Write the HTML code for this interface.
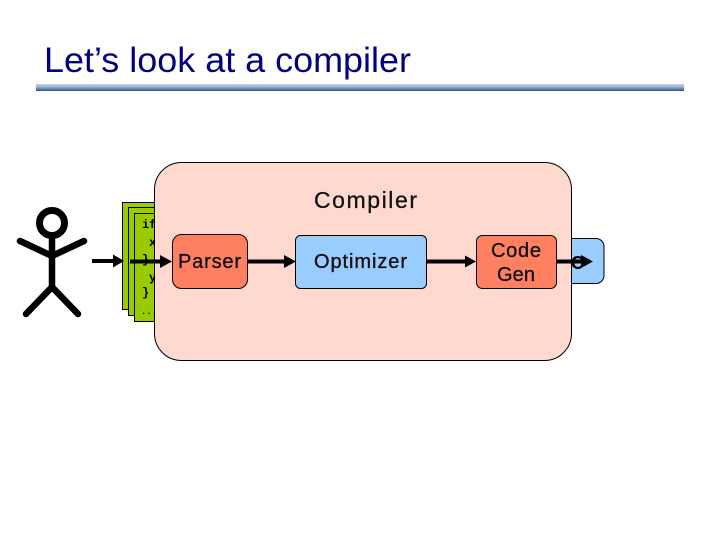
<!DOCTYPE html>
<html>
<head>
<meta charset="utf-8">
<style>
html,body{margin:0;padding:0;background:#fff;width:720px;height:540px;overflow:hidden}
svg{display:block}
text{font-family:"Liberation Sans",sans-serif}
.c{font-family:"Liberation Mono",monospace;font-weight:bold;font-size:12px;fill:#000}
.l{font-size:20px;fill:#111;text-anchor:middle;stroke:#111;stroke-width:.35}
</style>
</head>
<body>
<svg width="720" height="540" viewBox="0 0 720 540" xmlns="http://www.w3.org/2000/svg">
<defs>
<linearGradient id="g" x1="0" y1="0" x2="0" y2="1">
<stop offset="0" stop-color="#c5dbe4"/>
<stop offset=".45" stop-color="#8fb0cc"/>
<stop offset="1" stop-color="#3c4f80"/>
</linearGradient>
</defs>
<rect width="720" height="540" fill="#fff"/>
<text x="44" y="72" font-size="35" fill="#000080" textLength="367" lengthAdjust="spacingAndGlyphs">Let’s look at a compiler</text>
<rect x="36" y="84" width="648" height="7" fill="url(#g)"/>

<g fill="none" stroke="#000" stroke-width="6.500" stroke-linecap="round" stroke-linejoin="round">
<circle cx="52" cy="223" r="12.500" stroke-width="7"/>
<path d="M52 238V287M20 241L52 256L84 241M26 314L52 287L78 314"/>
</g>

<rect x="122.500" y="202.500" width="50" height="107" fill="#99cc00" stroke="#000"/>
<rect x="128.500" y="207.500" width="50" height="108" fill="#99cc00" stroke="#000"/>
<rect x="134.500" y="213.500" width="50" height="108" fill="#99cc00" stroke="#000"/>
<text class="c" x="142" y="228">if</text>
<text class="c" x="149" y="246">x</text>
<text class="c" x="142" y="263">}</text>
<text class="c" x="149" y="281">y</text>
<text class="c" x="142" y="296">}</text>
<text class="c" x="141" y="314" style="font-size:9px">...</text>

<rect x="560" y="238.500" width="44" height="45" rx="8" fill="#99ccff" stroke="#000"/>
<text x="571" y="269" font-size="18" fill="#000" font-weight="bold">C</text>

<rect x="154.500" y="162.500" width="417" height="198" rx="27" fill="#ffd9cf" stroke="#000"/>
<text x="365.500" y="208" font-size="23" fill="#111" stroke="#111" stroke-width=".3" text-anchor="middle" textLength="103" lengthAdjust="spacing">Compiler</text>

<rect x="172.500" y="234.500" width="75" height="54" rx="9" fill="#ff8060" stroke="#000"/>
<text class="l" x="209.500" y="268" textLength="63" lengthAdjust="spacing">Parser</text>
<rect x="295.500" y="235.500" width="131" height="53" rx="5" fill="#99ccff" stroke="#000"/>
<text class="l" x="360.500" y="268" textLength="93" lengthAdjust="spacing">Optimizer</text>
<rect x="476.500" y="235.500" width="80" height="53" rx="6" fill="#ff8060" stroke="#000"/>
<text class="l" x="516" y="257" textLength="50" lengthAdjust="spacing">Code</text>
<text class="l" x="516" y="281" textLength="38" lengthAdjust="spacing">Gen</text>

<g stroke="#000" fill="#000">
<line x1="92" y1="261" x2="116" y2="261" stroke-width="4"/><path d="M124 261L113 254.500V267.500Z" stroke="none"/>
<line x1="130" y1="261.500" x2="163" y2="261.500" stroke-width="4"/><path d="M172 261.500L160 255V268Z" stroke="none"/>
<line x1="247" y1="261.500" x2="287" y2="261.500" stroke-width="4"/><path d="M296 261.500L284 255V268Z" stroke="none"/>
<line x1="426" y1="261.500" x2="468" y2="261.500" stroke-width="4"/><path d="M476 261.500L465 255.500V267.500Z" stroke="none"/>
<line x1="557" y1="261.500" x2="584" y2="261.500" stroke-width="4"/><path d="M593 261.500L581 255V268Z" stroke="none"/>
</g>
</svg>
</body>
</html>
